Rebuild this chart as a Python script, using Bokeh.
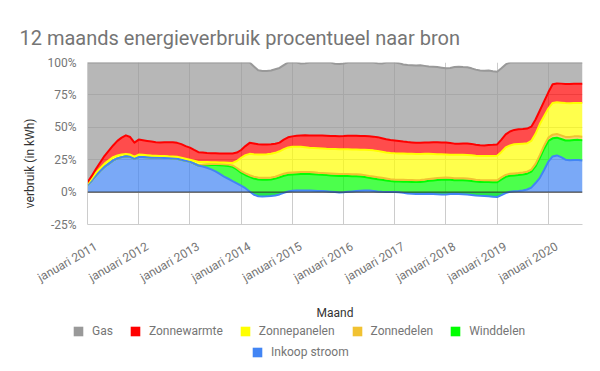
import math
from bokeh.plotting import figure
from bokeh.layouts import column
from bokeh.models import (ColumnDataSource, FixedTicker, Span, Legend, LegendItem,
                          Title, Range1d)
from bokeh.transform import stack
from bokeh.embed import file_html
from bokeh.resources import INLINE

# month index: 0 = januari 2011 ... 116 = september 2020
maanden = list(range(117))
tick_maanden = [0, 12, 24, 36, 48, 60, 72, 84, 96, 108]
tick_labels = ["januari 2011", "januari 2012", "januari 2013", "januari 2014",
               "januari 2015", "januari 2016", "januari 2017", "januari 2018",
               "januari 2019", "januari 2020"]
y_ticks = [-25, 0, 25, 50, 75, 100]
y_labels = ["-25%", "0%", "25%", "50%", "75%", "100%"]

inkoop_stroom = [
    5.6, 9.0, 13.0, 16.5, 19.5, 22.0, 24.5, 26.0, 27.0, 27.7,
    27.2, 25.8, 27.0, 27.0, 26.8, 26.5, 26.5, 26.5, 26.4, 26.3,
    26.2, 25.8, 25.0, 24.2, 23.5, 22.0, 20.5, 19.8, 18.8, 17.5,
    16.0, 14.0, 12.0, 10.3, 8.5, 6.8, 5.0, 3.0, 0.5, -2.0,
    -3.2, -3.3, -3.2, -3.0, -2.6, -1.8, -0.6, 0.4, 1.0, 1.2,
    1.3, 1.2, 1.2, 1.0, 0.8, 0.8, 0.6, 0.3, 0.0, -0.3,
    -0.2, 0.2, 0.5, 0.8, 1.1, 1.3, 1.2, 0.9, 0.5, 0.2,
    0.1, 0.0, 0.0, -0.2, -0.6, -1.0, -1.3, -1.5, -1.5, -1.4,
    -1.3, -1.4, -1.6, -1.8, -1.8, -1.5, -1.3, -1.4, -1.6, -1.8,
    -2.2, -2.6, -2.9, -3.0, -3.2, -3.5, -3.8, -2.3, -0.7, 0.3,
    0.6, 0.8, 1.3, 2.0, 3.5, 7.0, 11.0, 17.0, 23.5, 27.5,
    28.3, 27.0, 25.0, 24.6, 24.8, 24.8, 24.3]

winddelen = [
    0.0, 0.0, 0.0, 0.0, 0.0, 0.0, 0.0, 0.0, 0.0, 0.0,
    0.0, 0.0, 0.0, 0.0, 0.0, 0.0, 0.0, 0.0, 0.0, 0.0,
    0.0, 0.0, 0.0, 0.0, 0.0, 0.0, 0.0, 0.7, 2.0, 3.5,
    5.0, 6.8, 8.6, 9.9, 11.0, 10.7, 10.0, 10.2, 11.3, 12.5,
    13.0, 12.9, 12.8, 12.8, 13.0, 13.3, 13.2, 12.9, 12.6, 12.6,
    12.7, 12.8, 12.8, 12.8, 12.7, 12.5, 12.5, 12.6, 12.7, 12.8,
    12.6, 12.2, 11.8, 11.4, 10.9, 10.3, 9.8, 9.6, 9.5, 9.3,
    8.9, 8.5, 8.2, 8.3, 8.6, 8.9, 9.1, 9.2, 9.3, 9.6,
    10.0, 10.4, 10.9, 11.4, 11.6, 11.0, 10.5, 10.6, 10.8, 10.8,
    10.8, 10.7, 10.7, 10.7, 10.9, 11.1, 11.4, 12.1, 12.5, 12.3,
    12.3, 12.4, 12.3, 12.2, 12.3, 13.0, 15.5, 16.5, 16.0, 14.0,
    13.7, 14.0, 14.8, 15.2, 15.4, 15.5, 15.7]

zonnedelen = [
    0.0, 0.0, 0.0, 0.0, 0.0, 0.0, 0.0, 0.0, 0.0, 0.0,
    0.0, 0.0, 0.0, 0.0, 0.0, 0.0, 0.0, 0.0, 0.0, 0.0,
    0.0, 0.0, 0.0, 0.0, 0.0, 0.0, 0.0, 0.7, 0.7, 0.7,
    0.8, 0.9, 0.9, 1.0, 1.1, 1.1, 1.2, 1.3, 1.2, 1.3,
    1.4, 1.4, 1.4, 1.4, 1.4, 1.5, 1.6, 1.6, 1.5, 1.5,
    1.5, 1.5, 1.5, 1.5, 1.5, 1.5, 1.5, 1.5, 1.5, 1.5,
    1.5, 1.5, 1.5, 1.5, 1.5, 1.5, 1.5, 1.5, 1.5, 1.5,
    1.5, 1.5, 1.5, 1.5, 1.5, 1.5, 1.5, 1.5, 1.5, 1.5,
    1.5, 1.5, 1.5, 1.5, 1.5, 1.5, 1.5, 1.5, 1.5, 1.5,
    1.5, 1.5, 1.5, 1.5, 1.5, 1.5, 1.5, 1.5, 1.5, 1.5,
    1.5, 1.5, 1.5, 1.5, 1.6, 1.8, 2.0, 2.3, 2.5, 2.8,
    2.8, 2.8, 2.8, 2.8, 2.8, 2.8, 2.8]

zonnepanelen = [
    0.9, 1.5, 2.0, 2.0, 2.5, 2.5, 2.5, 2.2, 2.0, 1.8,
    1.8, 1.5, 2.0, 1.8, 1.7, 1.7, 1.5, 1.3, 1.4, 1.3,
    1.3, 1.4, 1.6, 1.6, 1.5, 2.2, 2.8, 2.0, 1.7, 1.3,
    1.2, 1.2, 1.3, 1.5, 1.9, 5.4, 10.3, 14.0, 16.5, 17.4,
    17.8, 18.0, 18.2, 18.4, 18.5, 18.5, 19.0, 19.6, 19.9, 19.7,
    19.5, 19.1, 18.7, 18.7, 18.8, 18.8, 18.8, 18.9, 19.0, 19.1,
    19.1, 19.1, 19.1, 19.1, 19.2, 19.5, 19.9, 20.2, 20.3, 20.2,
    20.1, 20.2, 20.2, 20.2, 20.2, 20.2, 20.2, 20.2, 20.1, 19.8,
    19.3, 18.9, 18.5, 18.1, 17.8, 17.9, 18.1, 18.1, 18.1, 18.2,
    18.3, 18.5, 18.6, 18.7, 18.7, 18.8, 18.9, 19.7, 21.2, 21.9,
    22.5, 22.5, 22.3, 21.9, 22.1, 23.2, 24.0, 22.7, 22.5, 24.5,
    24.5, 25.2, 26.1, 26.0, 25.7, 25.7, 25.9]

zonnewarmte = [
    1.1, 2.0, 3.0, 4.5, 6.0, 7.5, 9.0, 11.3, 13.0, 14.3,
    13.5, 10.9, 11.5, 11.2, 11.0, 10.8, 10.5, 10.5, 10.7, 10.9,
    11.0, 10.8, 10.4, 9.7, 9.3, 8.3, 7.5, 7.3, 7.0, 7.0,
    6.9, 6.9, 7.0, 7.1, 7.3, 6.5, 6.0, 7.0, 8.5, 8.3,
    7.9, 7.8, 7.6, 7.4, 7.0, 6.7, 7.3, 7.8, 8.0, 8.5,
    8.7, 9.2, 9.5, 9.6, 9.9, 10.0, 10.0, 9.9, 10.0, 9.9,
    10.2, 10.5, 10.6, 10.6, 10.6, 10.6, 10.7, 10.6, 10.6, 10.4,
    10.2, 10.0, 10.0, 9.7, 9.3, 9.0, 8.8, 8.6, 8.6, 8.7,
    8.8, 9.0, 9.1, 9.1, 9.1, 8.9, 8.6, 8.6, 8.7, 8.8,
    8.8, 8.5, 8.2, 8.1, 8.4, 8.6, 8.8, 9.5, 10.0, 10.8,
    11.1, 11.3, 11.3, 11.4, 11.0, 11.0, 10.5, 11.5, 12.5, 14.4,
    14.5, 14.7, 14.8, 14.9, 14.9, 14.8, 14.9]

gas = [
    92.4, 87.5, 82.0, 77.0, 72.0, 68.0, 64.0, 60.5, 58.0, 56.2,
    57.5, 61.8, 59.5, 60.0, 60.5, 61.0, 61.5, 61.7, 61.5, 61.5,
    61.5, 62.0, 63.0, 64.5, 65.7, 67.5, 69.2, 69.5, 69.8, 70.0,
    70.1, 70.2, 70.2, 70.2, 70.2, 69.5, 67.5, 64.5, 62.0, 59.5,
    57.1, 56.7, 56.7, 56.8, 57.5, 57.6, 57.5, 57.7, 57.0, 56.5,
    55.6, 55.7, 56.3, 56.4, 56.3, 56.4, 56.6, 56.8, 55.8, 55.8,
    56.0, 56.5, 56.5, 56.6, 56.7, 56.8, 56.9, 57.2, 57.0, 57.6,
    59.2, 59.8, 60.1, 60.0, 59.5, 59.4, 59.6, 59.6, 59.8, 59.2,
    58.7, 58.4, 58.1, 57.7, 57.3, 58.0, 59.2, 59.4, 59.0, 58.8,
    58.3, 57.9, 57.7, 57.6, 57.5, 56.7, 56.0, 55.0, 54.0, 53.2,
    52.0, 51.5, 51.3, 51.0, 49.5, 44.0, 37.0, 30.0, 23.0, 16.8,
    16.2, 16.3, 16.5, 16.5, 16.4, 16.4, 16.4]

keys = ["inkoop", "wind", "zdelen", "zpanelen", "zwarmte", "gas"]
names = ["Inkoop stroom", "Winddelen", "Zonnedelen", "Zonnepanelen", "Zonnewarmte", "Gas"]
colors = ["#4285f4", "#00ff00", "#f1c232", "#ffff00", "#ff0000", "#999999"]

src = ColumnDataSource(data=dict(x=maanden, inkoop=inkoop_stroom, wind=winddelen,
                                 zdelen=zonnedelen, zpanelen=zonnepanelen,
                                 zwarmte=zonnewarmte, gas=gas))

FONT = "Roboto"
p = figure(width=600, height=322, output_backend="svg", toolbar_location=None,
           x_range=Range1d(0, 116), y_range=Range1d(-25, 100),
           min_border_left=87, min_border_right=18, min_border_top=62,
           min_border_bottom=96)
p.frame_align = False
p.outline_line_color = None
p.background_fill_color = "white"
p.border_fill_color = "white"

p.title.text = "12 maands energieverbruik procentueel naar bron"
p.title.text_font = FONT
p.title.text_font_size = "20px"
p.title.text_font_style = "normal"
p.title.text_color = "#757575"
p.title.align = "left"
p.title.offset = -68
p.title.standoff = 25

p.varea_stack(stackers=keys, x="x", color=colors, fill_alpha=0.7, source=src)

line_order = [1, 2, 0, 3, 4, 5]
for i in line_order:
    p.line(x="x", y=stack(*keys[:i + 1]), source=src, line_color=colors[i],
           line_width=2, line_join="round")

p.add_layout(Span(location=0, dimension="width", line_color="#333333", line_width=1))

# grids (at the start of each year)
p.xgrid.ticker = FixedTicker(ticks=tick_maanden)
p.ygrid.ticker = FixedTicker(ticks=y_ticks)
for g in (p.xgrid, p.ygrid):
    g.grid_line_color = "#cccccc"
    g.grid_line_width = 1

# x axis: no tick marks; slanted labels anchored a little right of each gridline,
# as in the original layout
label_shift = 2
label_pos = [m + label_shift for m in tick_maanden]
p.xaxis.ticker = FixedTicker(ticks=label_pos)
p.xaxis.major_label_overrides = {m: l for m, l in zip(label_pos, tick_labels)}
p.xaxis.major_label_orientation = math.pi / 6
p.xaxis.axis_line_color = "#cccccc"
p.xaxis.major_tick_line_color = None
p.xaxis.minor_tick_line_color = None
p.xaxis.major_label_standoff = 15
p.xaxis.major_label_text_font = FONT
p.xaxis.major_label_text_font_size = "12px"
p.xaxis.major_label_text_color = "#757575"
p.xaxis.axis_label = "Maand"
p.xaxis.axis_label_text_font = FONT
p.xaxis.axis_label_text_font_size = "12px"
p.xaxis.axis_label_text_font_style = "normal"
p.xaxis.axis_label_text_color = "#333333"
p.xaxis.axis_label_standoff = 12

p.yaxis.ticker = FixedTicker(ticks=y_ticks)
p.yaxis.major_label_overrides = {t: l for t, l in zip(y_ticks, y_labels)}
p.yaxis.axis_line_color = "#cccccc"
p.yaxis.major_tick_line_color = None
p.yaxis.minor_tick_line_color = None
p.yaxis.major_label_standoff = 5
p.yaxis.major_label_text_font = FONT
p.yaxis.major_label_text_font_size = "12px"
p.yaxis.major_label_text_color = "#757575"

p.add_layout(Title(text="verbruik (in kWh)", align="right", offset=56,
                   text_font=FONT, text_font_size="12px", text_font_style="normal",
                   text_color="#333333", standoff=16), "left")

# legend figure: proxy renderers from the real data, kept out of view
pl = figure(width=600, height=49, output_backend="svg", toolbar_location=None,
            x_range=Range1d(-20, -10), y_range=Range1d(0, 1), min_border=0,
            x_axis_location=None, y_axis_location=None)
pl.frame_align = False
pl.outline_line_color = None
pl.grid.visible = False
pl.background_fill_color = "white"
pl.border_fill_color = "white"

swatch = {}
for k, n, c in zip(keys, names, colors):
    swatch[n] = pl.varea(x="x", y1=0, y2=k, source=src, fill_color=c, fill_alpha=1.0)

def make_legend(labels, loc):
    lg = Legend(items=[LegendItem(label=n, renderers=[swatch[n]]) for n in labels],
                orientation="horizontal", location=loc, glyph_width=12, glyph_height=12,
                label_standoff=8, spacing=16, padding=0, margin=0,
                border_line_color=None, background_fill_alpha=0,
                label_text_font=FONT, label_text_font_size="12px",
                label_text_color="#757575", label_height=12)
    pl.add_layout(lg)

make_legend(["Gas", "Zonnewarmte", "Zonnepanelen", "Zonnedelen", "Winddelen"], (72, 33))
make_legend(["Inkoop stroom"], (251, 12))

open("out.html", "w").write(file_html(column(p, pl, spacing=0), INLINE))
